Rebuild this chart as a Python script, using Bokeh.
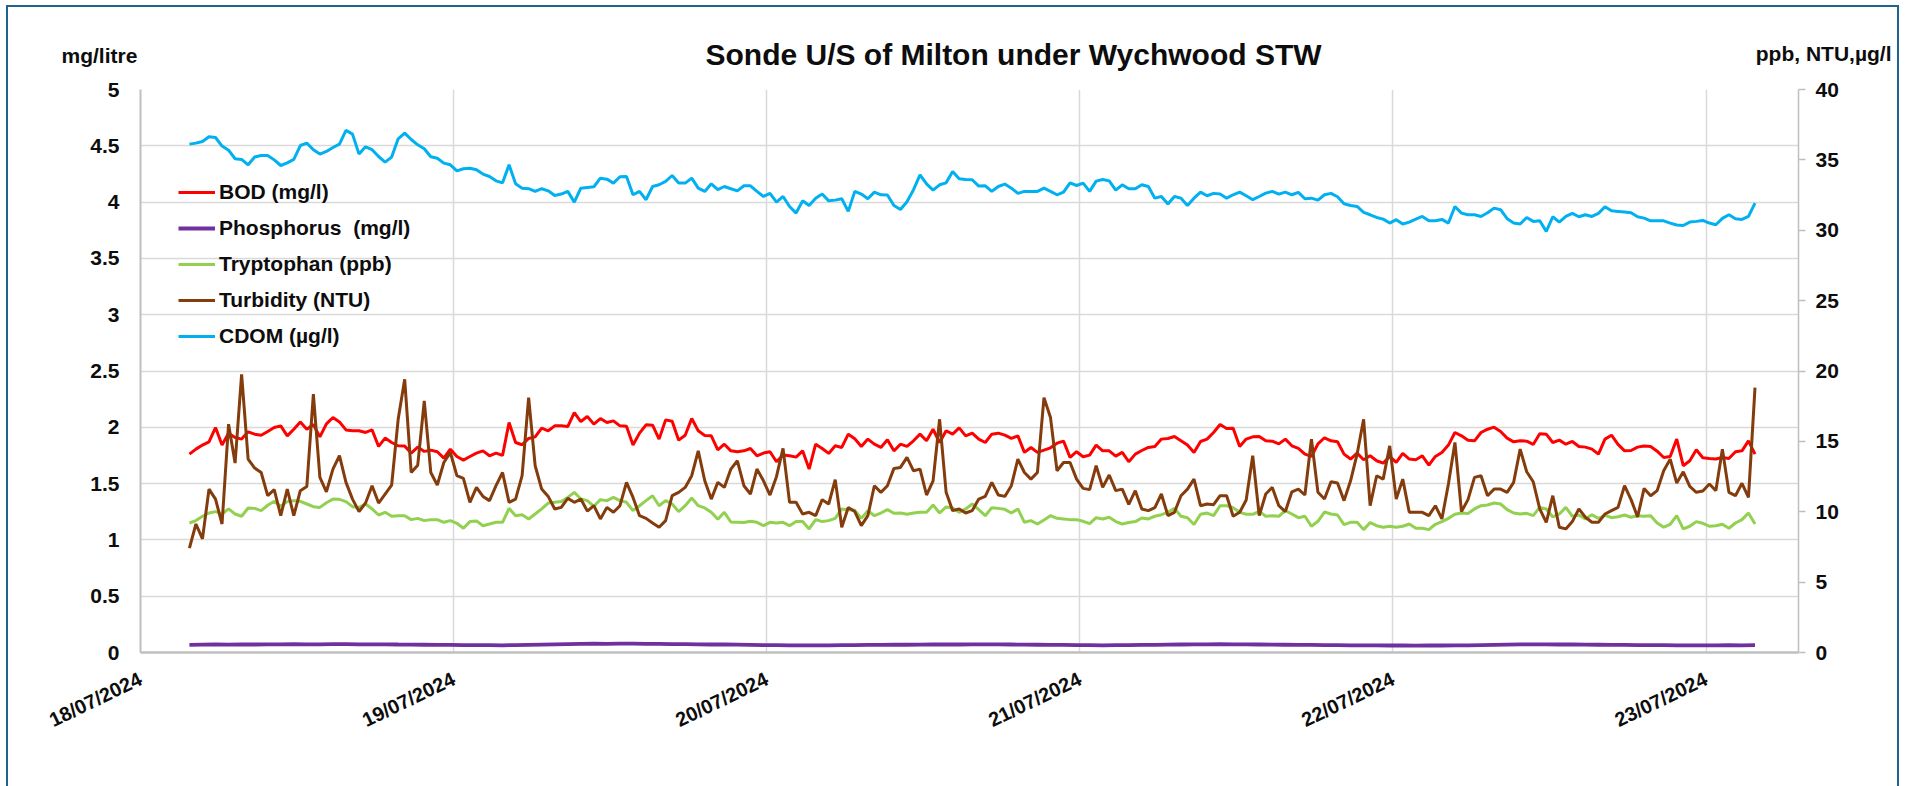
import pandas as pd
from datetime import datetime
from bokeh.plotting import figure
from bokeh.layouts import column
from bokeh.models import (Range1d, LinearAxis, FixedTicker, DatetimeTickFormatter,
                          CustomJSTickFormatter, Legend, LegendItem, Label)
from bokeh.embed import file_html
from bokeh.resources import INLINE

# ---------------- data ----------------
start_time = "2024-07-18 03:45"
times = pd.date_range(start_time, periods=241, freq="30min")
p_times = pd.date_range(start_time, periods=121, freq="60min")

title_text = "Sonde U/S of Milton under Wychwood STW"
left_unit = "mg/litre"
right_unit = "ppb, NTU,\u00b5g/l"
series_names = ["BOD (mg/l)", "Phosphorus\u00a0 (mg/l)", "Tryptophan (ppb)",
                "Turbidity (NTU)", "CDOM (\u00b5g/l)"]

day_ticks = ["2024-07-18", "2024-07-19", "2024-07-20", "2024-07-21", "2024-07-22", "2024-07-23"]
left_ticks = [0, 0.5, 1, 1.5, 2, 2.5, 3, 3.5, 4, 4.5, 5]
right_ticks = [0, 5, 10, 15, 20, 25, 30, 35, 40]

bod = [
    1.762, 1.806, 1.842, 1.871, 1.998, 1.842, 1.948, 1.91, 1.895, 1.96,
    1.939, 1.93, 1.963, 1.998, 2.013, 1.924, 1.983, 2.048, 1.983, 2.025,
    1.915, 2.031, 2.087, 2.048, 1.977, 1.969, 1.969, 1.954, 1.977, 1.83,
    1.904, 1.865, 1.836, 1.833, 1.771, 1.824, 1.786, 1.797, 1.783, 1.726,
    1.806, 1.741, 1.709, 1.741, 1.771, 1.791, 1.747, 1.771, 1.75, 2.042,
    1.865, 1.845, 1.901, 1.915, 1.992, 1.969, 2.013, 2.013, 2.007, 2.131,
    2.051, 2.096, 2.028, 2.078, 2.042, 2.057, 2.013, 2.01, 1.842, 1.948,
    2.022, 2.019, 1.895, 2.066, 2.054, 1.886, 1.93, 2.078, 1.969, 1.927,
    1.924,
    1.80, 1.85, 1.791, 1.783, 1.791, 1.812, 1.747, 1.771, 1.783, 1.694,
    1.753, 1.747, 1.735, 1.791, 1.629, 1.85, 1.812, 1.768, 1.836, 1.821,
    1.939, 1.898, 1.83, 1.895, 1.85, 1.821, 1.889, 1.791, 1.85, 1.83,
    1.88, 1.939, 1.88, 1.983, 1.865, 1.969, 1.939, 1.995, 1.924, 1.948,
    1.895, 1.865, 1.939, 1.948, 1.93, 1.901, 1.924, 1.777, 1.821, 1.777,
    1.797, 1.818, 1.859, 1.877, 1.732, 1.783, 1.738, 1.753, 1.842, 1.791,
    1.791, 1.744, 1.777, 1.694, 1.762, 1.794, 1.821, 1.83, 1.895, 1.901,
    1.918, 1.88, 1.842, 1.777, 1.874, 1.895, 1.954, 2.025, 1.989, 1.992,
    1.83,
    1.895, 1.915, 1.918, 1.88, 1.877, 1.853, 1.895, 1.836, 1.812, 1.762,
    1.741, 1.853, 1.907, 1.88, 1.871, 1.762, 1.718, 1.771, 1.712, 1.747,
    1.703, 1.682, 1.741, 1.688, 1.768, 1.718, 1.712, 1.747, 1.664, 1.741,
    1.777, 1.842, 1.954, 1.924, 1.886, 1.88, 1.954, 1.983, 2.001, 1.963,
    1.904, 1.871, 1.88, 1.877, 1.848, 1.942, 1.939, 1.865, 1.886, 1.85,
    1.874, 1.83, 1.824, 1.806, 1.762, 1.895, 1.93, 1.848, 1.791, 1.794,
    1.824, 1.833, 1.83, 1.788, 1.732, 1.741, 1.895, 1.659, 1.703, 1.8,
    1.729, 1.723, 1.718, 1.732, 1.723, 1.783, 1.791, 1.88, 1.762,
]

phosphorus = [
    0.068, 0.070, 0.071, 0.070, 0.072, 0.071, 0.073, 0.072, 0.074, 0.073,
    0.072, 0.074, 0.075, 0.073, 0.072, 0.073, 0.071, 0.070, 0.069, 0.068, 0.067,
    0.066, 0.065, 0.066, 0.064, 0.066, 0.068, 0.070, 0.072, 0.074, 0.076, 0.078, 0.077,
    0.078, 0.079, 0.077, 0.076, 0.075, 0.074, 0.072, 0.071, 0.072, 0.070, 0.068, 0.066,
    0.065, 0.064, 0.063, 0.064, 0.063, 0.065, 0.066, 0.067, 0.068, 0.070, 0.069, 0.070,
    0.071, 0.072, 0.071, 0.072, 0.073, 0.072, 0.071, 0.070, 0.069, 0.068, 0.067, 0.066,
    0.065, 0.064, 0.065, 0.066, 0.067, 0.068, 0.070, 0.071, 0.072, 0.073, 0.074, 0.073,
    0.072, 0.071, 0.070, 0.069, 0.068, 0.067, 0.066, 0.065, 0.064, 0.063, 0.063, 0.062,
    0.062, 0.061, 0.062, 0.062, 0.063, 0.064, 0.066, 0.068, 0.070, 0.072, 0.073, 0.072,
    0.071, 0.072, 0.070, 0.069, 0.068, 0.067, 0.066, 0.066, 0.065, 0.064, 0.064, 0.063,
    0.064, 0.065, 0.064, 0.065,
]

tryptophan = [
    9.2, 9.37, 9.68, 9.91, 10.01, 9.84, 10.2, 9.84, 9.68, 10.27,
    10.24, 10.08, 10.46, 10.74, 10.39, 10.72, 10.79, 10.74, 10.55, 10.36,
    10.31, 10.64, 10.9, 10.88, 10.72, 10.36, 10.31, 10.55, 10.2, 9.77,
    9.96, 9.68, 9.72, 9.72, 9.44, 9.53, 9.37, 9.44, 9.44, 9.25,
    9.37, 9.18, 8.83, 9.3, 9.35, 9.01, 9.13, 9.25, 9.25, 10.24,
    9.72, 9.79, 9.49, 9.84, 10.2, 10.62, 10.67, 10.72, 11.02, 11.38,
    10.9, 10.79, 10.39, 10.86, 10.79, 11.02, 10.79, 10.67, 10.08, 10.43,
    10.79, 11.14, 10.43, 10.79, 10.55, 10.01, 10.43, 10.98, 10.43, 10.27,
    9.96,
    9.46, 9.96, 9.27, 9.25, 9.23, 9.32, 9.25, 9.01, 9.25, 9.2,
    9.25, 9.01, 9.3, 9.3, 8.78, 9.44, 9.3, 9.37, 9.53, 10.2,
    10.15, 10.1, 9.53, 10.08, 9.72, 9.91, 10.15, 9.89, 9.91, 9.82,
    9.91, 9.96, 9.96, 10.48, 9.91, 10.34, 10.27, 9.96, 10.2, 10.55,
    10.15, 9.72, 10.29, 10.24, 10.17, 9.91, 10.2, 9.25, 9.37, 9.13,
    9.42, 9.72, 9.53, 9.49, 9.44, 9.44, 9.32, 9.16, 9.58, 9.49,
    9.61, 9.3, 9.13, 9.23, 9.3, 9.56, 9.49, 9.68, 9.79, 9.96,
    10.24, 9.68, 9.58, 9.09, 9.82, 9.91, 9.72, 10.43, 10.43, 10.29,
    9.96,
    9.82, 9.82, 10.03, 9.68, 9.72, 9.68, 10.08, 9.84, 9.58, 9.68,
    8.97, 9.32, 9.98, 9.84, 9.77, 9.09, 9.25, 9.25, 8.73, 9.23,
    9.01, 8.9, 8.97, 8.9, 8.97, 9.13, 8.83, 8.83, 8.73, 9.11,
    9.3, 9.53, 9.82, 9.91, 9.87, 10.2, 10.43, 10.48, 10.62, 10.55,
    10.15, 9.91, 9.84, 9.89, 9.72, 10.31, 10.2, 9.63, 9.84, 10.31,
    9.68, 9.77, 9.49, 9.79, 9.53, 9.75, 9.58, 9.65, 9.77, 9.61,
    9.72, 9.68, 9.72, 9.2, 8.9, 9.11, 9.72, 8.78, 8.97, 9.3,
    9.18, 8.97, 9.01, 9.11, 8.83, 9.2, 9.44, 9.91, 9.13,
]

turbidity = [
    7.41, 9.13, 8.07, 11.61, 10.9, 9.13, 16.22, 13.46, 19.76, 13.74,
    13.1, 12.79, 11.14, 11.57, 9.72, 11.61, 9.72, 11.5, 11.8, 18.35,
    12.44, 11.42, 13.03, 13.98, 12.09, 10.9, 10.01, 10.62, 11.85, 10.62,
    11.26, 11.9, 16.57, 19.41, 12.79, 13.31, 17.87, 12.79, 11.9, 13.5,
    14.21, 12.56, 12.37, 10.67, 11.73, 11.09, 10.79, 11.85, 12.79, 10.67,
    10.9, 12.56, 18.11, 13.27, 11.61, 11.09, 10.2, 10.31, 10.95, 10.67,
    10.9, 10.05, 10.43, 9.49, 10.31, 9.96, 10.43, 12.09, 11.02, 9.72,
    9.53, 9.2, 8.9, 9.37, 11.14, 11.38, 11.73, 12.56, 14.33, 12.2,
    10.9,
    12.09, 11.73, 13.03, 13.62, 11.85, 11.26, 13.03, 12.2, 11.19, 12.51,
    14.5, 10.67, 10.67, 9.84, 9.96, 9.72, 10.86, 10.55, 12.28, 8.9,
    10.31, 10.01, 9.01, 9.72, 11.85, 11.38, 11.85, 13.08, 13.15, 13.86,
    12.91, 13.03, 11.19, 12.2, 16.57, 11.38, 10.08, 10.2, 9.91, 10.08,
    10.9, 11.09, 12.09, 11.19, 11.09, 11.85, 13.74, 12.79, 12.32, 12.79,
    18.11, 16.69, 12.91, 13.5, 13.5, 12.32, 11.66, 11.57, 13.27, 11.73,
    12.61, 11.5, 11.61, 10.53, 11.5, 10.2, 10.08, 10.29, 11.26, 9.72,
    9.96, 11.14, 11.61, 12.32, 10.43, 10.55, 10.5, 11.14, 11.14, 9.68,
    9.96,
    10.83, 13.98, 9.72, 11.26, 11.73, 10.43, 10.01, 11.42, 11.61, 11.19,
    15.16, 11.38, 10.9, 12.13, 12.04, 10.79, 12.2, 14.09, 16.57, 10.43,
    12.56, 12.32, 14.68, 10.9, 12.32, 9.96, 9.96, 9.96, 9.72, 10.43,
    9.49, 11.97, 14.92, 10.01, 10.86, 12.44, 12.56, 11.14, 11.61, 11.61,
    11.38, 12.09, 14.45, 12.84, 12.13, 10.2, 9.25, 11.14, 8.9, 8.78,
    9.3, 10.2, 9.61, 9.25, 9.25, 9.84, 10.08, 10.31, 11.85, 10.86,
    9.63, 11.66, 11.14, 11.5, 12.91, 13.74, 12.04, 12.84, 11.8, 11.38,
    11.47, 11.97, 11.5, 14.45, 11.38, 11.14, 12.02, 11.02, 18.82,
]

cdom = [
    36.12, 36.19, 36.31, 36.64, 36.59, 35.98, 35.69, 35.08, 35.03, 34.65,
    35.2, 35.31, 35.31, 35.0, 34.6, 34.79, 35.03, 36.02, 36.19, 35.72,
    35.41, 35.6, 35.88, 36.12, 37.1, 36.83, 35.41, 35.93, 35.72, 35.24,
    34.84, 35.2, 36.5, 36.9, 36.45, 36.07, 35.79, 35.22, 35.12, 34.77,
    34.65, 34.22, 34.37, 34.41, 34.3, 33.99, 33.82, 33.51, 33.37, 34.65,
    33.3, 32.99, 32.95, 32.76, 32.95, 32.8, 32.47, 32.57, 32.76, 32.0,
    32.99, 33.04, 33.09, 33.7, 33.63, 33.35, 33.8, 33.82, 32.52, 32.76,
    32.17, 33.11, 33.23, 33.47, 33.89, 33.35, 33.35, 33.7, 32.99, 32.76,
    33.3,
    32.88, 33.11, 32.95, 32.8, 33.16, 33.16, 32.76, 32.4, 32.62, 32.0,
    32.4, 31.69, 31.22, 32.09, 31.76, 32.28, 32.57, 32.09, 32.14, 32.24,
    31.34, 32.76, 32.57, 32.24, 32.71, 32.52, 32.5, 31.76, 31.48, 32.02,
    32.88, 33.94, 33.3, 32.85, 33.23, 33.37, 34.18, 33.66, 33.61, 33.59,
    33.14, 33.16, 32.76, 33.11, 33.28, 32.99, 32.62, 32.76, 32.76, 32.76,
    32.99, 32.76, 32.52, 32.71, 33.37, 33.18, 33.35, 32.76, 33.49, 33.61,
    33.51, 32.85, 33.23, 32.95, 32.95, 33.23, 33.11, 32.28, 32.4, 31.86,
    32.4, 32.28, 31.76, 32.28, 32.71, 32.45, 32.62, 32.57, 32.28, 32.52,
    32.71,
    32.45, 32.17, 32.4, 32.64, 32.76, 32.57, 32.71, 32.52, 32.69, 32.24,
    32.28, 32.14, 32.52, 32.62, 32.38, 31.88, 31.76, 31.69, 31.27, 31.1,
    30.91, 30.79, 30.51, 30.75, 30.44, 30.58, 30.79, 30.98, 30.67, 30.67,
    30.77, 30.51, 31.69, 31.22, 31.1, 31.1, 30.98, 31.24, 31.57, 31.46,
    30.82, 30.51, 30.44, 30.91, 30.63, 30.67, 29.92, 30.96, 30.58, 30.98,
    31.2, 30.96, 31.1, 30.98, 31.2, 31.67, 31.38, 31.34, 31.29, 31.24,
    30.96, 30.86, 30.67, 30.67, 30.67, 30.51, 30.37, 30.34, 30.58, 30.63,
    30.7, 30.51, 30.39, 30.84, 31.1, 30.82, 30.77, 30.98, 31.93,
]

# ---------------- styling ----------------
FONT = "Liberation Sans"
GRID = "#D9D9D9"
AXIS = "#BFBFBF"
TXT = "#0D0D0D"
W = 1889
HEAD_H = 70
MAIN_H = 710


def ms(ts):
    return pd.Timestamp(ts).value / 1e6


# ---- header strip (title and unit captions) ----
head = figure(width=W, height=HEAD_H, output_backend="svg", toolbar_location=None,
              x_range=Range1d(0, W), y_range=Range1d(0, HEAD_H),
              x_axis_location=None, y_axis_location=None,
              min_border=0, min_border_left=0, min_border_right=0,
              min_border_top=0, min_border_bottom=0)
head.outline_line_color = None
head.grid.visible = False
head.background_fill_color = "white"
head.border_fill_color = "white"
head.add_layout(Label(x=1005, y=23.5, text=title_text, text_font=FONT,
                      text_font_style="bold", text_font_size="30px", text_color=TXT,
                      text_align="center", text_baseline="middle"))
head.add_layout(Label(x=53, y=22, text=left_unit, text_font=FONT,
                      text_font_style="bold", text_font_size="21px", text_color=TXT,
                      text_align="left", text_baseline="middle"))
head.add_layout(Label(x=1883, y=24, text=right_unit, text_font=FONT,
                      text_font_style="bold", text_font_size="21px", text_color=TXT,
                      text_align="right", text_baseline="middle"))

# ---- main chart ----
p = figure(width=W, height=MAIN_H, x_axis_type="datetime",
           output_backend="svg", toolbar_location=None,
           x_range=Range1d(datetime(2024, 7, 18), datetime(2024, 7, 23, 7, 5)),
           y_range=Range1d(0, 5),
           min_border_left=132, min_border_right=99,
           min_border_top=12, min_border_bottom=135)
p.extra_y_ranges = {"right": Range1d(0, 40)}
p.outline_line_color = None
p.background_fill_color = "white"
p.border_fill_color = "white"

# keep the header's frame independent of the chart frame
for fig in (head, p):
    try:
        fig.frame_align = False
    except Exception:
        pass

xt = FixedTicker(ticks=[ms(d) for d in day_ticks])
xax = p.xaxis[0]
xax.ticker = xt
fmt = "%d/%m/%Y"
xax.formatter = DatetimeTickFormatter(days=fmt, months=fmt, hours=fmt, years=fmt,
                                      minutes=fmt, seconds=fmt, milliseconds=fmt,
                                      microseconds=fmt, hourmin=fmt, minsec=fmt)
xax.major_label_orientation = 0.45
xax.major_label_text_font = FONT
xax.major_label_text_font_style = "bold"
xax.major_label_text_font_size = "20px"
xax.major_label_text_color = TXT
xax.major_label_standoff = 19
xax.axis_line_color = AXIS
xax.axis_line_width = 2.5
xax.major_tick_line_color = None
xax.minor_tick_line_color = None

yt = FixedTicker(ticks=left_ticks)
yax = p.yaxis[0]
yax.ticker = yt
yax.formatter = CustomJSTickFormatter(code="return tick.toString();")
yax.major_label_text_font = FONT
yax.major_label_text_font_style = "bold"
yax.major_label_text_font_size = "21px"
yax.major_label_text_color = TXT
yax.major_label_standoff = 15
yax.axis_line_color = AXIS
yax.axis_line_width = 2
yax.major_tick_line_color = None
yax.minor_tick_line_color = None

rax = LinearAxis(y_range_name="right", ticker=FixedTicker(ticks=right_ticks))
rax.major_label_text_font = FONT
rax.major_label_text_font_style = "bold"
rax.major_label_text_font_size = "21px"
rax.major_label_text_color = TXT
rax.major_label_standoff = 10
rax.axis_line_color = AXIS
rax.axis_line_width = 1.5
rax.major_tick_line_color = AXIS
rax.major_tick_line_width = 1.5
rax.major_tick_out = 7
rax.major_tick_in = 0
rax.minor_tick_line_color = None
p.add_layout(rax, "right")

p.xgrid.ticker = xt
p.ygrid.ticker = yt
p.xgrid.grid_line_color = GRID
p.ygrid.grid_line_color = GRID
p.xgrid.grid_line_width = 1.5
p.ygrid.grid_line_width = 1.5

LW = 3
r_bod = p.line(times, bod, line_color="#FF0000", line_width=LW)
r_p = p.line(p_times, phosphorus, line_color="#7030A0", line_width=3.8)
r_try = p.line(times, tryptophan, line_color="#92D050", line_width=LW, y_range_name="right")
r_tur = p.line(times, turbidity, line_color="#843C0C", line_width=LW, y_range_name="right")
r_cdom = p.line(times, cdom, line_color="#00B0F0", line_width=LW, y_range_name="right")

legend = Legend(items=[LegendItem(label=n, renderers=[r])
                       for n, r in zip(series_names, [r_bod, r_p, r_try, r_tur, r_cdom])],
                location=(38, 304), glyph_width=37, glyph_height=20, label_height=20,
                spacing=12, padding=0, margin=0, label_standoff=4,
                background_fill_alpha=0, border_line_alpha=0,
                label_text_font=FONT, label_text_font_style="bold",
                label_text_font_size="21px", label_text_color=TXT)
p.add_layout(legend)

layout = column(head, p, spacing=0,
                styles={"border": "2px solid #1F6391", "margin": "5px 0 0 6px"})

open("out.html", "w").write(file_html(layout, INLINE))
